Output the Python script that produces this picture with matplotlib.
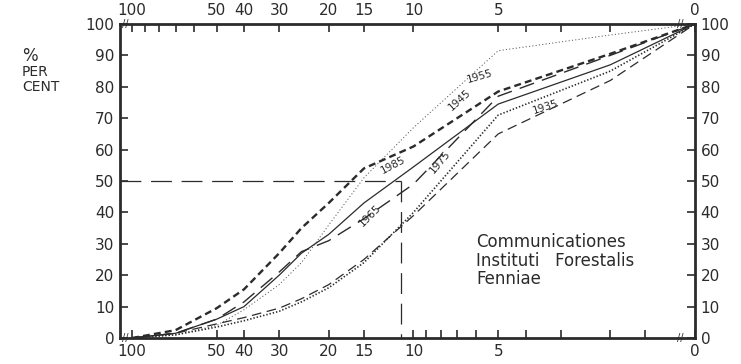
import matplotlib
matplotlib.use("Agg")
import matplotlib.pyplot as plt

plt.rcParams['font.family'] = ['DejaVu Sans']
plt.rcParams['lines.scale_dashes'] = False

# size class (log scale, reversed); "0" is drawn at position 1
x_vals = [100, 70, 50, 40, 30, 25, 20, 15, 10, 5, 2, 1]

y1935 = [0, 1.5, 4.5, 6.5, 9.5, 12.5, 17, 25, 39, 65, 82, 100]
y1945 = [0, 1.0, 4.0, 9, 17, 24, 36, 51, 67, 91.5, 96.5, 100]
y1955 = [0, 2.5, 9.5, 15.5, 27, 35, 43, 54, 61, 78.5, 90.5, 100]
y1965 = [0, 1.5, 6, 11.5, 21, 27.5, 31, 38, 49, 77, 90, 100]
y1975 = [0, 1.0, 3.5, 5.5, 8.5, 11.5, 16, 24, 40, 71, 85, 100]
y1985 = [0, 1.5, 6, 10, 20, 27, 33, 43, 54.5, 74.5, 87, 100]

major_x = [100, 50, 40, 30, 20, 15, 10, 5, 1]
major_x_labels = ['100', '50', '40', '30', '20', '15', '10', '5', '0']
bottom_minor = [9, 8, 7, 6, 4, 3, 2, 1.5]
top_minor = [90, 80, 70, 60, 4, 3, 2]
top_major = [100, 50, 40, 30, 20, 15, 10, 5, 1]
y_ticks = list(range(0, 101, 10))

ref_x = 11.1
ref_y = 50

ink = '#2b2b2b'

fig = plt.figure(figsize=(7.41, 3.64), dpi=100)
ax = fig.add_axes([120/741, 1-338/364, (695-120)/741, (338-24)/364])
ax.set_xscale('log')
ax.set_xlim(110.3, 1)
ax.set_ylim(0, 100)

# curves
l, = ax.plot(x_vals, y1935, color=ink, lw=0.9)
l.set_dashes((7, 4))
l, = ax.plot(x_vals, y1945, color='#555555', lw=0.7)
l.set_dashes((0.8, 1.6))
l, = ax.plot(x_vals, y1955, color=ink, lw=1.7)
l.set_dashes((5, 3))
l, = ax.plot(x_vals, y1965, color=ink, lw=1.0)
l.set_dashes((11, 6))
l, = ax.plot(x_vals, y1975, color=ink, lw=1.2)
l.set_dashes((1, 1.4))
ax.plot(x_vals, y1985, color=ink, lw=0.9)

# reference lines
l, = ax.plot([110.3, ref_x], [ref_y, ref_y], color=ink, lw=0.9)
l.set_dashes((15, 7))
l, = ax.plot([ref_x, ref_x], [ref_y, 0], color=ink, lw=0.9)
l.set_dashes((15, 7))

# curve labels
labels = [('1945', 6.84, 75.8, 42), ('1955', 5.8, 83.4, 16), ('1935', 3.41, 73.6, 18),
          ('1985', 11.8, 55.1, 28), ('1975', 8.05, 56, 50), ('1965', 14.3, 38.9, 45)]
for txt, xv, yv, rot in labels:
    ax.text(xv, yv, txt, fontsize=7.5, rotation=rot, ha='center', va='center',
            color=ink, rotation_mode='anchor')

# spines and ticks
for s in ax.spines.values():
    s.set_linewidth(2.0)
    s.set_color(ink)

ax.set_xticks(major_x)
ax.set_xticklabels(major_x_labels)
ax.set_xticks(bottom_minor, minor=True)
ax.xaxis.set_minor_formatter(matplotlib.ticker.NullFormatter())
ax.set_yticks(y_ticks)
ax.set_yticklabels([str(v) for v in y_ticks])
ax.tick_params(axis='x', which='both', direction='in', length=6, width=1.2,
               colors=ink, labelsize=11, pad=4, top=False)
ax.tick_params(axis='y', direction='in', length=6, width=1.2, colors=ink,
               labelsize=11, pad=4, left=True, right=True, labelleft=True, labelright=True)
ax.xaxis.get_major_ticks()[0].tick1line.set_visible(False)

ax2 = ax.twiny()
ax2.set_xscale('log')
ax2.set_xlim(110.3, 1)
ax2.set_xticks(top_major)
ax2.set_xticklabels(major_x_labels)
ax2.set_xticks(top_minor, minor=True)
ax2.xaxis.set_minor_formatter(matplotlib.ticker.NullFormatter())
ax2.tick_params(axis='x', which='both', direction='in', length=6, width=1.2,
                colors=ink, labelsize=11, pad=4)
for s in ax2.spines.values():
    s.set_visible(False)

# axis breaks
for xv in (106, 1.13):
    for yv in (0, 100):
        ax.text(xv, yv, '//', fontsize=7, ha='center', va='center', color=ink,
                clip_on=False)

ax.text(0.619, 0.335, 'Communicationes\nInstituti   Forestalis\nFenniae',
        transform=ax.transAxes, fontsize=12, ha='left', va='top', color=ink,
        linespacing=1.05)

fig.text(22/741, 1-56/364, '%', fontsize=12, ha='left', va='center', color=ink)
fig.text(22/741, 1-72/364, 'PER', fontsize=10, ha='left', va='center', color=ink)
fig.text(22/741, 1-87/364, 'CENT', fontsize=10, ha='left', va='center', color=ink)

fig.savefig('out.png', dpi=100, facecolor='white')
